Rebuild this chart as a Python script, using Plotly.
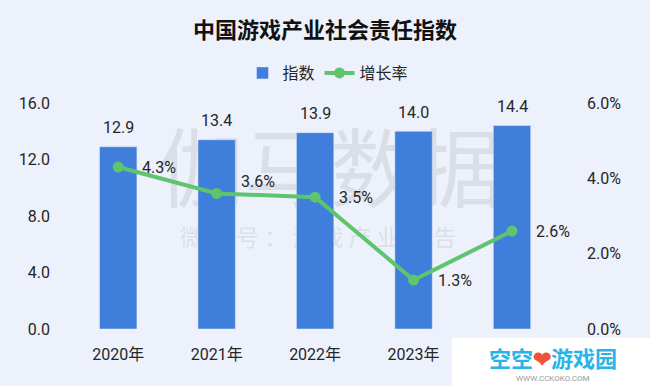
import plotly.graph_objects as go

# ---- data ----
years = ["2020年", "2021年", "2022年", "2023年", "2024年"]
index_values = [12.9, 13.4, 13.9, 14.0, 14.4]
growth_rates = [4.3, 3.6, 3.5, 1.3, 2.6]          # percent
left_ticks = [0, 4, 8, 12, 16]
right_ticks = [0, 2, 4, 6]

title_text = "中国游戏产业社会责任指数"
watermark_main = "伽马数据"
watermark_sub = "微 信 号 ： 游 戏 产 业 报 告"

# ---- style ----
BG = "#ECF1FB"
BAR = "#3F7FDB"
GREEN = "#5EC46D"
TXT = "#262626"
FONT = "Roboto, 'Noto Sans CJK SC', sans-serif"
CJK = "'Noto Sans CJK SC', sans-serif"
WM = "rgba(150,150,150,0.2)"

W, H = 650, 386
ML, MR, MT, MB = 69, 78, 103, 57
PW, PH = W - ML - MR, H - MT - MB


def px(x):
    return (x - ML) / PW


def py(y):
    return (H - MB - y) / PH


fig = go.Figure()
fig.add_bar(x=years, y=index_values, name="指数", marker_color=BAR,
            width=0.38, yaxis="y")
fig.add_scatter(x=years, y=growth_rates, name="增长率", mode="lines+markers",
                line=dict(color=GREEN, width=4),
                marker=dict(size=11, color=GREEN), yaxis="y2")

ann = []
for x, v in zip(years, index_values):
    ann.append(dict(x=x, y=v, xref="x", yref="y", text=f"{v:.1f}",
                    showarrow=False, yshift=19,
                    font=dict(size=16, color=TXT, family=FONT)))
for i, (x, g) in enumerate(zip(years, growth_rates)):
    ann.append(dict(x=x, y=g, xref="x", yref="y2", text=f"{g:.1f}%",
                    showarrow=False, xanchor="left", xshift=22,
                    yshift=12 if i == 1 else 0,
                    font=dict(size=16, color=TXT, family=FONT)))

# site logo overlay (bottom right)
ann.append(dict(xref="paper", yref="paper", x=px(553), y=py(357),
                text="<b><span style='color:#27B4E8'>空空</span>"
                     "<span style='color:#F0523A'>❤</span>"
                     "<span style='color:#27B4E8'>游戏园</span></b>",
                showarrow=False, xanchor="center", yanchor="middle",
                font=dict(size=22, family=CJK)))
ann.append(dict(xref="paper", yref="paper", x=px(553), y=py(378),
                text="WWW.CCKOKO.COM", showarrow=False, xanchor="center",
                yanchor="middle", font=dict(size=8, color="#9A9A9A", family=FONT)))

shapes = [
    dict(type="rect", xref="paper", yref="paper", x0=px(150), x1=px(510), y0=py(220), y1=py(135),
         layer="below", line=dict(width=0), fillcolor="rgba(0,0,0,0)",
         label=dict(text=watermark_main, textposition="middle center",
                    font=dict(size=86, color=WM, family=CJK))),
    dict(type="rect", xref="paper", yref="paper", x0=px(140), x1=px(496), y0=py(255), y1=py(225),
         layer="below", line=dict(width=0), fillcolor="rgba(0,0,0,0)",
         label=dict(text=watermark_sub, textposition="middle center",
                    font=dict(size=23, color=WM, family=CJK))),
    dict(type="rect", xref="paper", yref="paper", x0=px(452), x1=px(652),
         y0=py(388), y1=py(338), layer="above",
         line=dict(width=0), fillcolor="white"),
]

fig.update_layout(
    width=W, height=H,
    paper_bgcolor=BG, plot_bgcolor=BG,
    margin=dict(l=ML, r=MR, t=MT, b=MB, autoexpand=False),
    font=dict(family=FONT, color=TXT, size=16),
    title=dict(text=f"<b>{title_text}</b>", x=0.5, xref="container", xanchor="center",
               y=1 - 30 / H, yref="container", yanchor="middle",
               font=dict(size=22, color="#111111", family=CJK)),
    legend=dict(orientation="h", xref="paper", yref="paper",
                x=px(328), xanchor="center", y=py(73), yanchor="middle",
                font=dict(size=16, family=CJK, color=TXT), bgcolor="rgba(0,0,0,0)",
                itemwidth=30),
    xaxis=dict(showgrid=False, showline=False, zeroline=False, ticks="",
               tickvals=years[:4], automargin=False,
               tickfont=dict(size=16, family=FONT), ticklabelstandoff=14),
    yaxis=dict(range=[0, 16], tickvals=left_ticks,
               ticktext=[f"{t:.1f}" for t in left_ticks], automargin=False,
               showgrid=False, zeroline=False, showline=False, ticks="",
               tickfont=dict(size=16), ticklabelstandoff=18),
    yaxis2=dict(range=[0, 6], tickvals=right_ticks,
                ticktext=[f"{t:.1f}%" for t in right_ticks], automargin=False,
                overlaying="y", side="right", showgrid=False, zeroline=False,
                showline=False, ticks="", tickfont=dict(size=16), ticklabelstandoff=14),
    annotations=ann,
    shapes=shapes,
    showlegend=True,
)

fig.write_html("out.html",
               config={"displayModeBar": False},
               post_script="document.body.style.margin='0';"
                           "document.body.style.overflow='hidden';")
